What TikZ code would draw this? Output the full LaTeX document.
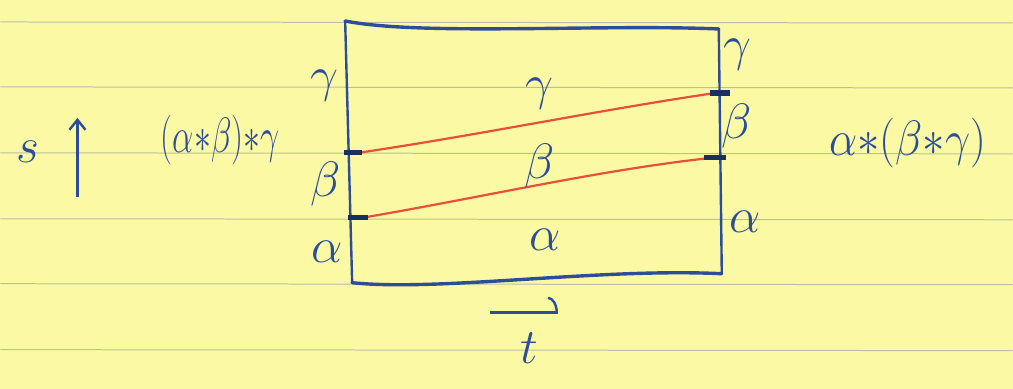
\documentclass[tikz,border=0pt]{standalone}
\usepackage{amsmath}
\usepackage{amssymb}
\usetikzlibrary{arrows.meta,positioning}
\definecolor{paper}{HTML}{FCF9A4}
\definecolor{ruling}{HTML}{B9BEA9}
\definecolor{ink}{HTML}{2C4E9A}
\definecolor{redink}{HTML}{E9503C}

\begin{document}
\begin{tikzpicture}[x=0.5pt,y=-0.5pt,
  lbl/.style={text=ink,font=\fontsize{30}{34}\selectfont,inner sep=0pt},
  edge/.style={draw=ink,line width=1.2pt,line cap=round},
  tick/.style={draw=ink!60!black,line width=2.6pt},
  path/.style={draw=redink,line width=1.1pt}]
  \def\W{1013}
  \def\H{389}

  % paper with its ruling
  \fill[paper] (0,0) rectangle (\W,\H);
  \foreach \ly in {22,87,153,219,284,350}
    \draw[ruling,line width=0.5pt] (0,\ly) -- (\W,\ly+1);

  % corners of the square
  \coordinate (tl) at (345,21);
  \coordinate (tr) at (719,29);
  \coordinate (br) at (722,274);
  \coordinate (bl) at (352,283);

  % ends of the red paths
  \coordinate (l1) at (358,153);
  \coordinate (l2) at (362,218);
  \coordinate (r1) at (716,93);
  \coordinate (r2) at (712,158);

  \draw[edge,line width=1.7pt] (tl) .. controls (420,36) and (600,24) .. (tr);
  \draw[edge,line width=1.7pt] (bl) .. controls (440,292) and (600,268) .. (br);
  \draw[edge] (tl) -- (bl);
  \draw[edge] (tr) -- (br);

  \draw[path] (l1) .. controls (480,135) and (600,110) .. (r1);
  \draw[path] (l2) .. controls (480,198) and (600,170) .. (r2);

  \foreach \c/\a/\b in {l1/-14/4,l2/-14/6,r1/-6/14,r2/-8/14}
    \draw[tick] ([xshift=\a*0.5pt]\c) -- ([xshift=\b*0.5pt]\c);

  % labels on the sides and inside
  \foreach \n/\x/\y/\t in {lg/324/86/\gamma,lb/325/184/\beta,la/327/252/\alpha,
                          mg/540/94/\gamma,mb/540/166/\beta,ma/545/240/\alpha,
                          rg/738/55/\gamma,rb/737/126/\beta,ra/745/222/\alpha}
    \node[lbl] (\n) at (\x,\y) {$\t$};

  \node[lbl] (left) at (220,140) [xscale=0.68] {$(\alpha{*}\beta){*}\gamma$};
  \node[lbl] (right) at (908,143) [xscale=0.9] {$\alpha{*}(\beta{*}\gamma)$};

  % the two directions
  \node[lbl] (s) at (27,152) {$s$};
  \coordinate (sbot) at (77,197);
  \coordinate (stop) at (77,118);
  \draw[ink,line width=1.2pt,-{Straight Barb[length=5pt,width=8pt]}] (sbot) -- (stop);

  \node[lbl] (t) at (529,349) {$t$};
  \coordinate (tbeg) at (490,313);
  \coordinate (tend) at (558,313);
  \draw[ink,line width=1.2pt,-{Arc Barb[left,length=5pt,width=16pt]}] (tbeg) -- (tend);
\end{tikzpicture}
\end{document}
